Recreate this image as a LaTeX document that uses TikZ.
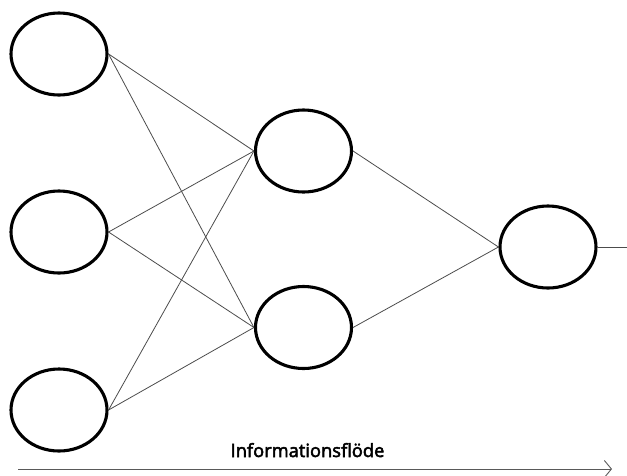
\documentclass[tikz,border=0pt]{standalone}
\usepackage{fontspec}
\setmainfont{Open Sans}
\newfontfamily\labelfont[FakeBold=2.8]{Open Sans}
\usetikzlibrary{shapes.geometric,arrows.meta}
\begin{document}
\begin{tikzpicture}[x=1pt,y=-1pt,
  neuron/.style={ellipse,draw=black,line width=3.1pt,inner sep=0pt,
    minimum width=96pt,minimum height=82pt,fill=white},
  link/.style={draw=black!70,line width=0.8pt},
  flow/.style={draw=black!65,line width=1pt,-{Straight Barb[length=7pt,width=17pt,line width=0.9pt]}}]
  \useasboundingbox (0,0) rectangle (627,475);
  % input layer
  \node[neuron] (i1) at (59,54) {};
  \node[neuron] (i2) at (59,232) {};
  \node[neuron] (i3) at (59,410) {};
  % hidden layer
  \node[neuron] (h1) at (303.5,151) {};
  \node[neuron] (h2) at (303.5,327.5) {};
  % output layer
  \node[neuron] (o1) at (548,247) {};
  \coordinate (out) at (627,247);
  % weights
  \foreach \i in {i1,i2,i3}{
    \foreach \h in {h1,h2}{
      \draw[link] (\i.east) -- (\h.west);
    }
  }
  \draw[link] (h1.east) -- (o1.west);
  \draw[link] (h2.east) -- (o1.west);
  \draw[link] (o1.east) -- (out);
  % direction of information flow
  \coordinate (fs) at (18,469);
  \coordinate (fe) at (612,469);
  \draw[flow] (fs) -- (fe);
  \node[font=\labelfont\fontsize{18.3}{21}\selectfont,anchor=base] (lbl) at (307.5,457) {Informationsflöde};
\end{tikzpicture}
\end{document}
